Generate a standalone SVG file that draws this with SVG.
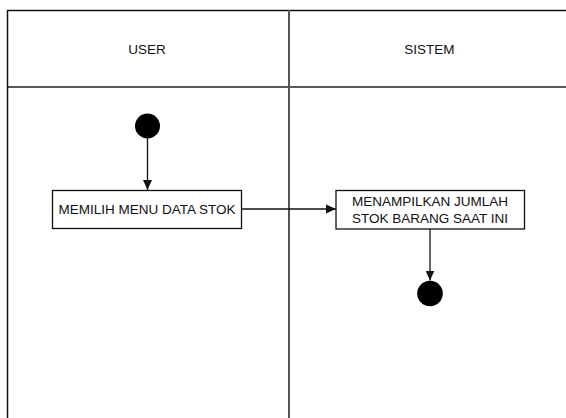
<svg xmlns="http://www.w3.org/2000/svg" width="566" height="418" viewBox="0 0 566 418">
<defs>
<style>
.t{font-family:"Liberation Sans",Arial,sans-serif;font-size:13.5px;fill:#111;text-anchor:middle}
.box{fill:#fff;stroke:#111;stroke-width:1.3}
.edge{stroke:#111;stroke-width:1.3;fill:none}
.dot{fill:#000}
</style>
<marker id="ah" viewBox="0 0 10 10" refX="10" refY="5" markerWidth="10" markerHeight="10" markerUnits="userSpaceOnUse" orient="auto">
<path d="M0,0.5 L10,5 L0,9.5 Z" fill="#111"/>
</marker>
</defs>
<rect width="566" height="418" fill="#fff"/>
<g id="pool">
<line x1="7" y1="10.5" x2="566" y2="10.5" stroke="#111" stroke-width="1.5"/>
<line x1="7" y1="87" x2="566" y2="87" stroke="#222" stroke-width="1.5"/>
<line x1="7.5" y1="10" x2="7.5" y2="418" stroke="#111" stroke-width="1.5"/>
<line x1="289" y1="10" x2="289" y2="418" stroke="#555" stroke-width="2"/>
</g>
<g id="lane-user"><text class="t" x="147" y="54">USER</text></g>
<g id="lane-sistem"><text class="t" x="429.5" y="54">SISTEM</text></g>
<g id="start"><circle class="dot" cx="147.5" cy="126" r="12.5"/></g>
<g id="memilih">
<rect class="box" x="52.5" y="190.5" width="189" height="38"/>
<text class="t" x="147" y="214">MEMILIH MENU DATA STOK</text>
</g>
<g id="menampilkan">
<rect class="box" x="336" y="190.5" width="188.5" height="38.5"/>
<text class="t" x="430" y="206">MENAMPILKAN JUMLAH</text>
<text class="t" x="430" y="223">STOK BARANG SAAT INI</text>
</g>
<g id="end"><circle class="dot" cx="430" cy="293.5" r="12.8"/></g>
<g id="connectors">
<line class="edge" x1="147.5" y1="138" x2="147.5" y2="190" marker-end="url(#ah)"/>
<line class="edge" x1="241.5" y1="209" x2="336" y2="209" marker-end="url(#ah)"/>
<line class="edge" x1="430" y1="229" x2="430" y2="280.5" marker-end="url(#ah)"/>
</g>
</svg>
